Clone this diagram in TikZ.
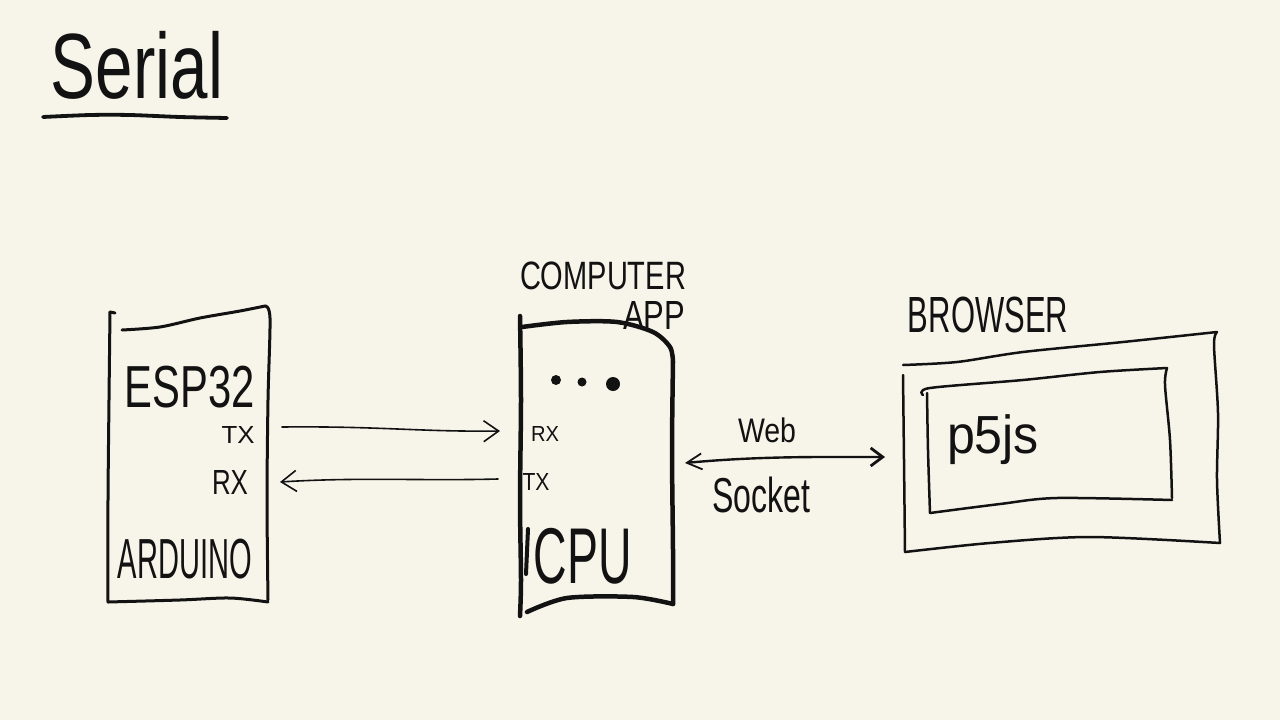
\documentclass[tikz,border=0pt]{standalone}
\usepackage{fontspec}
\setmainfont{Liberation Sans}
\usepackage{graphicx}
\usetikzlibrary{arrows.meta}
\definecolor{paper}{RGB}{247,245,234}
\definecolor{ink}{RGB}{18,18,18}
\newcommand{\hw}[3]{\resizebox*{#1pt}{#2pt}{#3}}
\begin{document}
\begin{tikzpicture}[x=1pt,y=-1pt,
  inkline/.style={draw=ink, line cap=round, line join=round},
  espbox/.style={inkline, line width=3pt},
  cpubox/.style={inkline, line width=4.5pt},
  webbox/.style={inkline, line width=2.5pt},
  serialarrow/.style={inkline, line width=1.6pt, -{Straight Barb[length=15pt,width=21pt,line width=1.6pt]}},
  wsarrow/.style={inkline, line width=2.4pt, {Straight Barb[length=15pt,width=16pt,line width=1.8pt]}-{Straight Barb[length=12pt,width=18pt,line width=2.8pt]}},
  lbl/.style={inner sep=0pt, text=ink, anchor=center}]
\fill[paper] (0,0) rectangle (1280,720);
\useasboundingbox (0,0) rectangle (1280,720);

% title
\node[lbl] (title) at (137,65) {\hw{172}{68}{Serial}};
\draw[inkline, line width=3.8pt] plot[smooth] coordinates {(43,117) (90,115) (130,115) (180,117) (227,118)};

% ESP32 box
\draw[espbox] plot[smooth] coordinates {(110,312) (109,400) (108,500) (108,602)};
\draw[espbox] (110,312) -- (115,313);
\draw[espbox] plot[smooth] coordinates {(122,330) (160,327) (200,318) (240,311) (265,306)};
\draw[espbox] plot[smooth] coordinates {(265,306) (270,318) (268,400) (267,500) (268,600)};
\draw[espbox] plot[smooth] coordinates {(108,602) (180,600) (230,598) (268,602)};
\node[lbl] (esp) at (190,387) {\hw{130}{42}{ESP32}};
\node[lbl] (esptx) at (238,435) {\hw{33}{17}{TX}};
\node[lbl] (esprx) at (230,482) {\hw{36}{24}{RX}};
\node[lbl] (ard) at (185,559) {\hw{134}{40}{ARDUINO}};

% computer app box
\node[lbl] (comp) at (603,276) {\hw{166}{28}{COMPUTER}};
\node[lbl] (app) at (654,315) {\hw{62}{28}{APP}};
\draw[cpubox] plot[smooth] coordinates {(520,316) (521,400) (520,500) (521,580) (520,616)};
\draw[cpubox] plot[smooth] coordinates {(522,327) (567,322) (617,322) (653,332) (670,347) (673,362)};
\draw[cpubox] plot[smooth] coordinates {(673,362) (672,450) (673,550) (673,604)};
\draw[cpubox] plot[smooth] coordinates {(527,612) (567,598) (633,597) (673,604)};
\draw[inkline, line width=4pt] (528,529) -- (526,574);
\fill[ink] (556,380) circle (5);
\fill[ink] (582,382) circle (4.5);
\fill[ink] (613,384) circle (7);
\node[lbl] (cpurx) at (545,434) {\hw{28}{15}{RX}};
\node[lbl] (cputx) at (536,482) {\hw{27}{17}{TX}};
\node[lbl] (cpu) at (583,556) {\hw{98}{56}{CPU}};

% serial arrows
\coordinate (txs) at (282,427);
\coordinate (txe) at (500,431);
\coordinate (rxs) at (498,479);
\coordinate (rxe) at (280,482);
\draw[serialarrow] (txs) .. controls (380,426) and (420,432) .. (txe);
\draw[serialarrow] (rxs) .. controls (420,481) and (360,477) .. (rxe);

% web socket
\coordinate (wsl) at (685,463);
\coordinate (wsr) at (885,457);
\draw[wsarrow] (wsl) .. controls (760,456) and (820,457) .. (wsr);
\node[lbl] (web) at (767,430) {\hw{58}{25}{Web}};
\node[lbl] (sock) at (761,495) {\hw{98}{36}{Socket}};

% browser
\node[lbl] (brow) at (988,315) {\hw{160}{36}{BROWSER}};
\draw[webbox] plot[smooth] coordinates {(903,365) (957,362) (1023,352) (1123,342) (1217,332)};
\draw[webbox] plot[smooth] coordinates {(903,375) (904,460) (905,552)};
\draw[webbox] plot[smooth] coordinates {(1217,332) (1214,345) (1218,413) (1217,480) (1220,543)};
\draw[webbox] plot[smooth] coordinates {(905,552) (990,543) (1090,537) (1220,543)};
\draw[webbox] plot[smooth] coordinates {(923,395) (930,388) (1023,380) (1100,372) (1167,368)};
\draw[webbox] plot[smooth] coordinates {(927,393) (928,450) (930,513)};
\draw[webbox] plot[smooth] coordinates {(1167,368) (1165,385) (1170,440) (1172,498)};
\draw[webbox] plot[smooth] coordinates {(930,513) (1000,504) (1057,498) (1172,500)};
\node[lbl] (p5) at (993,440) {\hw{92}{50}{p5js}};
\end{tikzpicture}
\end{document}
